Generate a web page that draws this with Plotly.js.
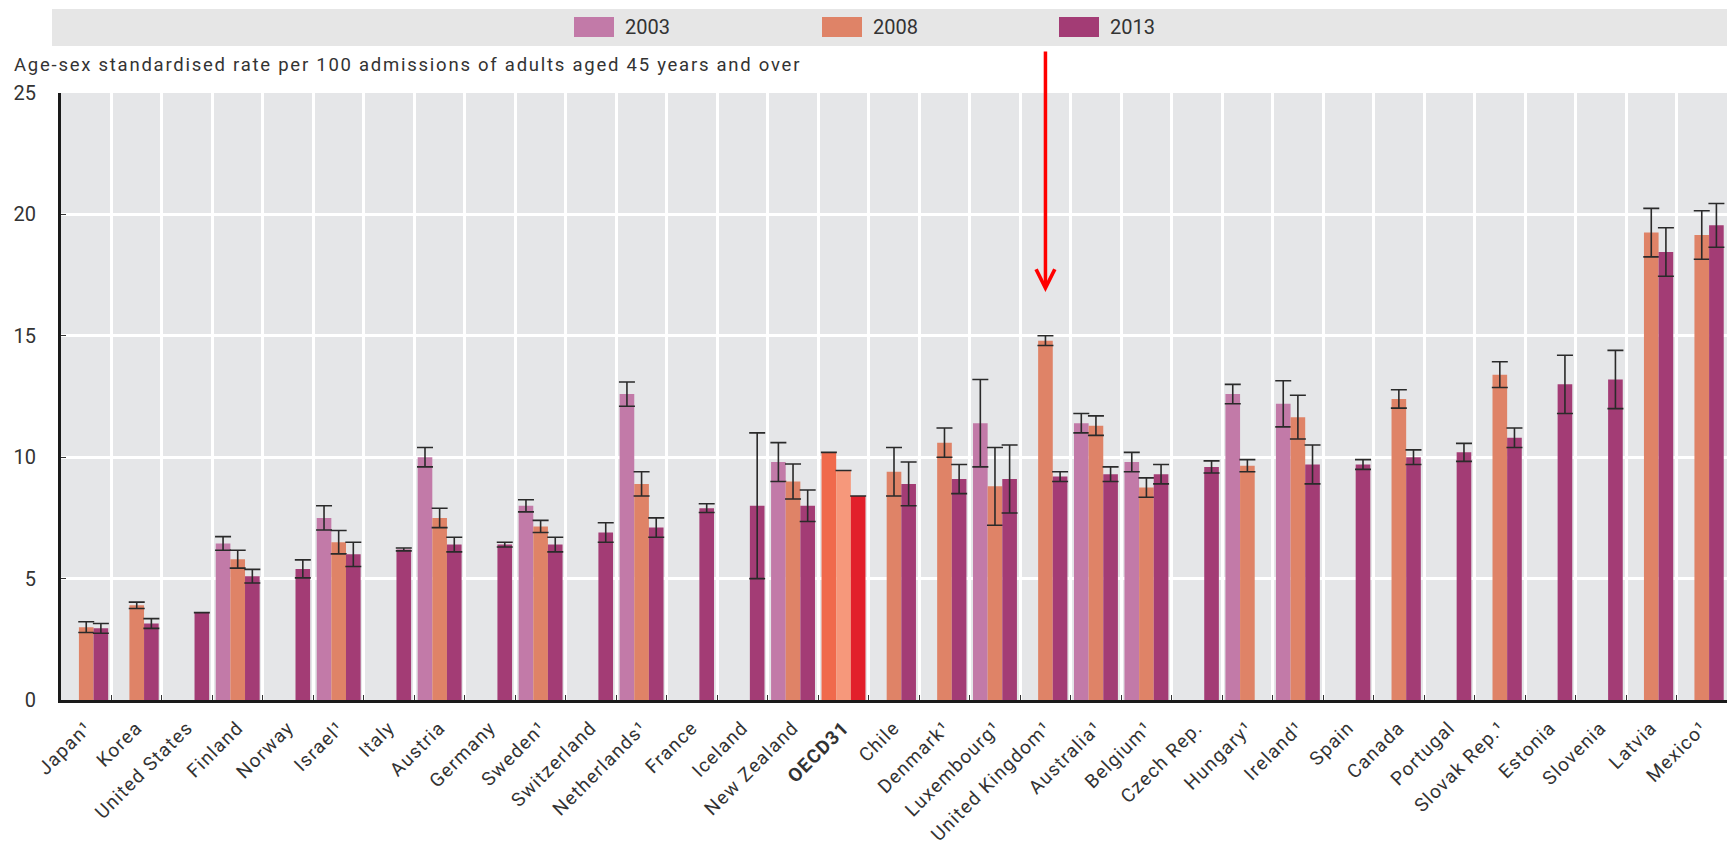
<!DOCTYPE html>
<html>
<head>
<meta charset="utf-8">
<script src="https://cdn.plot.ly/plotly-3.0.1.min.js"></script>
<style>
  html, body { margin: 0; padding: 0; background: #ffffff; }
  #chart { width: 1730px; height: 841px; }
  #chart .xtick text { letter-spacing: 1.2px; }
  #chart g.annotation[data-index="3"] text { letter-spacing: 1.75px; }
</style>
</head>
<body>
<div id="chart"></div>
<script>
// ---------------- DATA ----------------
const categories = ["Japan¹","Korea","United States","Finland","Norway","Israel¹","Italy","Austria","Germany","Sweden¹","Switzerland","Netherlands¹","France","Iceland","New Zealand","OECD31","Chile","Denmark¹","Luxembourg¹","United Kingdom¹","Australia¹","Belgium¹","Czech Rep.","Hungary¹","Ireland¹","Spain","Canada","Portugal","Slovak Rep.¹","Estonia","Slovenia","Latvia","Mexico¹"];
const tickLabels = ["Japan¹","Korea","United States","Finland","Norway","Israel¹","Italy","Austria","Germany","Sweden¹","Switzerland","Netherlands¹","France","Iceland","New Zealand","<b>OECD31</b>","Chile","Denmark¹","Luxembourg¹","United Kingdom¹","Australia¹","Belgium¹","Czech Rep.","Hungary¹","Ireland¹","Spain","Canada","Portugal","Slovak Rep.¹","Estonia","Slovenia","Latvia","Mexico¹"];
const seriesNames = ["2003","2008","2013"];

const v2003 = [null,null,null,6.45,null,7.5,null,10.0,null,8.0,null,12.6,null,null,9.8,10.2,null,null,11.4,null,11.4,9.8,null,12.6,12.2,null,null,null,null,null,null,null,null];
const e2003 = [null,null,null,0.28,null,0.5,null,0.4,null,0.25,null,0.5,null,null,0.8,null,null,null,1.8,null,0.4,0.4,null,0.4,0.95,null,null,null,null,null,null,null,null];

const v2008 = [3.0,3.9,null,5.8,null,6.5,null,7.5,null,7.15,null,8.9,null,null,9.0,9.45,9.4,10.6,8.8,14.8,11.3,8.75,null,9.65,11.65,null,12.4,null,13.4,null,null,19.25,19.15];
const e2008 = [0.22,0.13,null,0.37,null,0.48,null,0.4,null,0.25,null,0.5,null,null,0.72,null,1.0,0.6,1.6,0.2,0.4,0.4,null,0.25,0.9,null,0.38,null,0.53,null,null,1.0,1.0];

const v2013 = [2.95,3.15,3.6,5.1,5.4,6.0,6.2,6.4,6.4,6.4,6.9,7.1,7.9,8.0,8.0,8.4,8.9,9.1,9.1,9.2,9.3,9.3,9.6,null,9.7,9.7,10.0,10.2,10.8,13.0,13.2,18.45,19.55];
const e2013 = [0.2,0.2,null,0.28,0.37,0.5,0.06,0.3,0.1,0.3,0.4,0.4,0.18,3.0,0.65,null,0.9,0.6,1.4,0.2,0.3,0.4,0.25,null,0.8,0.2,0.3,0.37,0.4,1.2,1.2,1.0,0.9];

const yTicks = [0,5,10,15,20,25];
const yTitle = "Age-sex standardised rate per 100 admissions of adults aged 45 years and over";
const highlightCategory = "United Kingdom¹";
const highlightArrowTip = 16.8;

// ---------------- STYLE ----------------
const baseColors = ["#c27aa8", "#df8367", "#a33c75"];
const oecdColors = ["#f06a4c", "#f6987b", "#e2202b"];
const oecdIndex = categories.indexOf("OECD31");
const FONT = "Roboto, 'Liberation Sans', Arial, sans-serif";
const TXT = "#333333";

const W = 1730, H = 841;
const ML = 61, MR = 3, MT = 93, MB = 141;
const PW = W - ML - MR, PH = H - MT - MB;
const px = x => (x - ML) / PW;
const py = y => (H - MB - y) / PH;

const values = [v2003, v2008, v2013];
const errors = [e2003, e2008, e2013];

const traces = seriesNames.map((name, s) => ({
  type: "bar",
  name: name,
  x: categories,
  y: values[s],
  marker: {
    color: categories.map((c, i) => i === oecdIndex ? oecdColors[s] : baseColors[s]),
    line: { width: 0 }
  },
  error_y: {
    type: "data",
    array: errors[s],
    visible: true,
    color: "#2a2a2a",
    thickness: 1.6,
    width: 8
  },
  showlegend: false,
  hoverinfo: "x+y+name"
}));

// Legend drawn as shapes + annotations inside the grey band
const legendSwatchX = [574, 822, 1059];
const shapes = [
  { type: "rect", xref: "paper", yref: "paper", x0: px(52), x1: px(1727), y0: py(46), y1: py(9),
    fillcolor: "#e6e6e6", line: { width: 0 }, layer: "below" }
];
const annotations = [];
seriesNames.forEach((name, s) => {
  const x0 = legendSwatchX[s];
  shapes.push({ type: "rect", xref: "paper", yref: "paper", x0: px(x0), x1: px(x0 + 40),
    y0: py(37), y1: py(17), fillcolor: baseColors[s], line: { width: 0 } });
  annotations.push({ xref: "paper", yref: "paper", x: px(x0 + 49), y: py(27), xanchor: "left", yanchor: "middle",
    text: name, showarrow: false, font: { family: FONT, size: 20, color: TXT } });
});

annotations.push({
  xref: "paper", yref: "paper", x: px(12), y: py(65), xanchor: "left", yanchor: "middle", align: "left",
  text: yTitle, showarrow: false, font: { family: FONT, size: 18.5, color: TXT }
});

annotations.push({
  x: highlightCategory, y: highlightArrowTip, xref: "x", yref: "y",
  ax: 0, ay: -242, showarrow: true, arrowhead: 5, arrowsize: 1.05, arrowwidth: 3.5,
  arrowcolor: "#ff0000", text: ""
});

const layout = {
  width: W, height: H,
  margin: { l: ML, r: MR, t: MT, b: MB, pad: 0 },
  paper_bgcolor: "#ffffff",
  plot_bgcolor: "#e5e6e8",
  barmode: "group",
  bargap: 0.13,
  bargroupgap: 0,
  font: { family: FONT, color: TXT },
  xaxis: {
    type: "category",
    range: [-0.5, categories.length - 0.5],
    tickson: "boundaries",
    showgrid: true, gridcolor: "#ffffff", gridwidth: 3,
    showline: true, linecolor: "#1a1a1a", linewidth: 3,
    ticks: "inside", ticklen: 5, tickcolor: "#333333", tickwidth: 1,
    tickvals: categories, ticktext: tickLabels,
    tickangle: -45,
    ticklabelstandoff: 6,
    tickfont: { family: FONT, size: 19, color: TXT },
    zeroline: false, fixedrange: true
  },
  yaxis: {
    range: [0, 25], autorange: false,
    tickvals: yTicks, ticktext: yTicks.map(String),
    showgrid: true, gridcolor: "#ffffff", gridwidth: 3,
    showline: true, linecolor: "#1a1a1a", linewidth: 3,
    ticks: "inside", ticklen: 5, tickcolor: "#333333", tickwidth: 1,
    ticklabelstandoff: 18,
    tickfont: { family: FONT, size: 20, color: TXT },
    zeroline: false, fixedrange: true
  },
  shapes: shapes,
  annotations: annotations,
  showlegend: false
};

Plotly.newPlot("chart", traces, layout, { displayModeBar: false, responsive: false });
</script>
</body>
</html>
